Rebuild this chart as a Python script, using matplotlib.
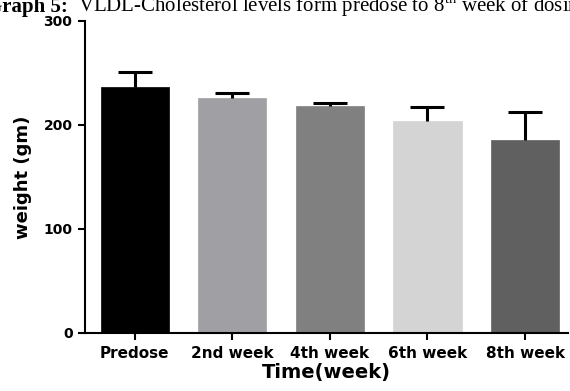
import matplotlib
matplotlib.use("Agg")
import matplotlib.pyplot as plt

categories = ["Predose", "2nd week", "4th week", "6th week", "8th week"]
means = [236.6, 225.5, 218.0, 203.7, 185.7]
sem = [14.0, 5.0, 3.0, 13.5, 27.0]
colors = ["#000000", "#a0a0a4", "#808080", "#d4d4d4", "#606060"]
yticks = [0, 100, 200, 300]

plt.rcParams['mathtext.fontset'] = 'custom'
plt.rcParams['mathtext.rm'] = 'Liberation Serif'
plt.rcParams['mathtext.bf'] = 'Liberation Serif:bold'

fig = plt.figure(figsize=(5.7, 3.91), dpi=100)
ax = fig.add_axes([85/570, (391-333)/391, (568-85)/570, (333-21)/391])

x = list(range(len(categories)))
ax.bar(x, means, width=0.7, color=colors, edgecolor=colors, linewidth=0.5, zorder=2)
eb = ax.errorbar(x, means, yerr=[[0]*len(sem), sem], fmt='none', ecolor='black',
                 elinewidth=2.2, capsize=12, capthick=2.2, zorder=3)
# only the upper caps are shown
eb[1][0].set_visible(False)

ax.set_xlim(-0.51, 4.44)
ax.set_ylim(0, 300)
ax.set_yticks(yticks)
ax.set_xticks(x)
ax.set_xticklabels(categories)
for s in ['top', 'right']:
    ax.spines[s].set_visible(False)
for s in ['left', 'bottom']:
    ax.spines[s].set_linewidth(1.5)
ax.tick_params(axis='y', length=5, width=1.5, pad=4, labelsize=10)
ax.tick_params(axis='x', length=5, width=1.5, pad=4, labelsize=11)
for lab in ax.get_xticklabels() + ax.get_yticklabels():
    lab.set_fontweight('bold')
    lab.set_family('DejaVu Sans')
ax.set_xlabel("Time(week)", fontsize=14, fontweight='bold', labelpad=2)
ax.set_ylabel("weight (gm)", fontsize=13, fontweight='bold', labelpad=8)

fig.text(68/570, 1 - 12/391, "Graph 5:", family='Liberation Serif',
         fontweight='bold', fontsize=15, va='baseline', ha='right')
fig.text(78/570, 1 - 12/391,
         r"VLDL-Cholesterol levels form predose to 8$^{\mathrm{th}}$ week of dosing",
         family='Liberation Serif', fontsize=15, va='baseline', ha='left')

fig.savefig("out.png", dpi=100)
